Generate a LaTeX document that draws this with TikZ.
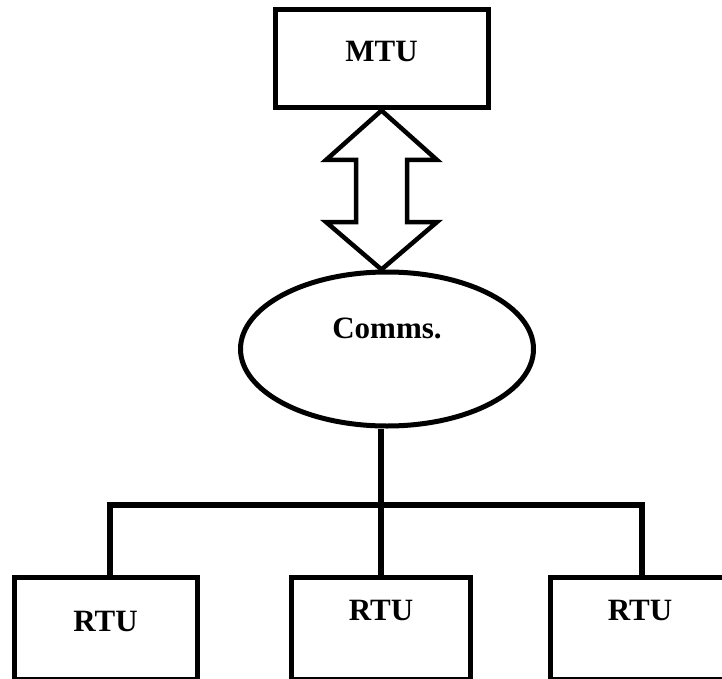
\documentclass[tikz,border=0pt]{standalone}
\usepackage{fontspec}
\setmainfont{Liberation Serif}
\usepackage{tikz}
\usetikzlibrary{shapes.geometric}

\tikzset{
  unit/.style={draw, line width=5pt, minimum width=#1, font=\fontsize{31}{36}\selectfont\bfseries, text height=20pt},
  wire/.style={line width=5.5pt},
  bigarrow/.style={line width=4.5pt, line join=miter, fill=white}
}

\begin{document}
\begin{tikzpicture}[x=1pt,y=-1pt]
\useasboundingbox (0,0) rectangle (722,679);
\clip (0,0) rectangle (722,679);

\node [unit=213pt, minimum height=98pt, text depth=14pt] (mtu) at (381.5,59) {MTU};
\node [unit=293pt, ellipse, minimum height=154pt, text depth=42pt] (comms) at (387,349) {Comms.};

\node [unit=183pt, minimum height=102pt, text depth=14pt] (rtuL) at (105.5,628) {RTU};
\node [unit=179pt, minimum height=102pt, text depth=36pt] (rtuM) at (381,628) {RTU};
\node [unit=180pt, minimum height=102pt, text depth=36pt] (rtuR) at (640,628) {RTU};

% double arrow between MTU and comms
\draw [bigarrow] (mtu.south) -- (437,160) -- (407,160) -- (407,222) -- (437,222)
  -- (mtu.south |- comms.north) -- (326,222) -- (356,222) -- (356,160) -- (326,160) -- cycle;

% bus down to the RTUs
\coordinate (busL) at (110,505);
\coordinate (busR) at (642,505);
\draw [wire] (rtuM.north |- comms.south) -- (rtuM.north);
\draw [wire] (busL |- rtuL.north) -- (busL) -- (busR) -- (busR |- rtuR.north);

\end{tikzpicture}
\end{document}
